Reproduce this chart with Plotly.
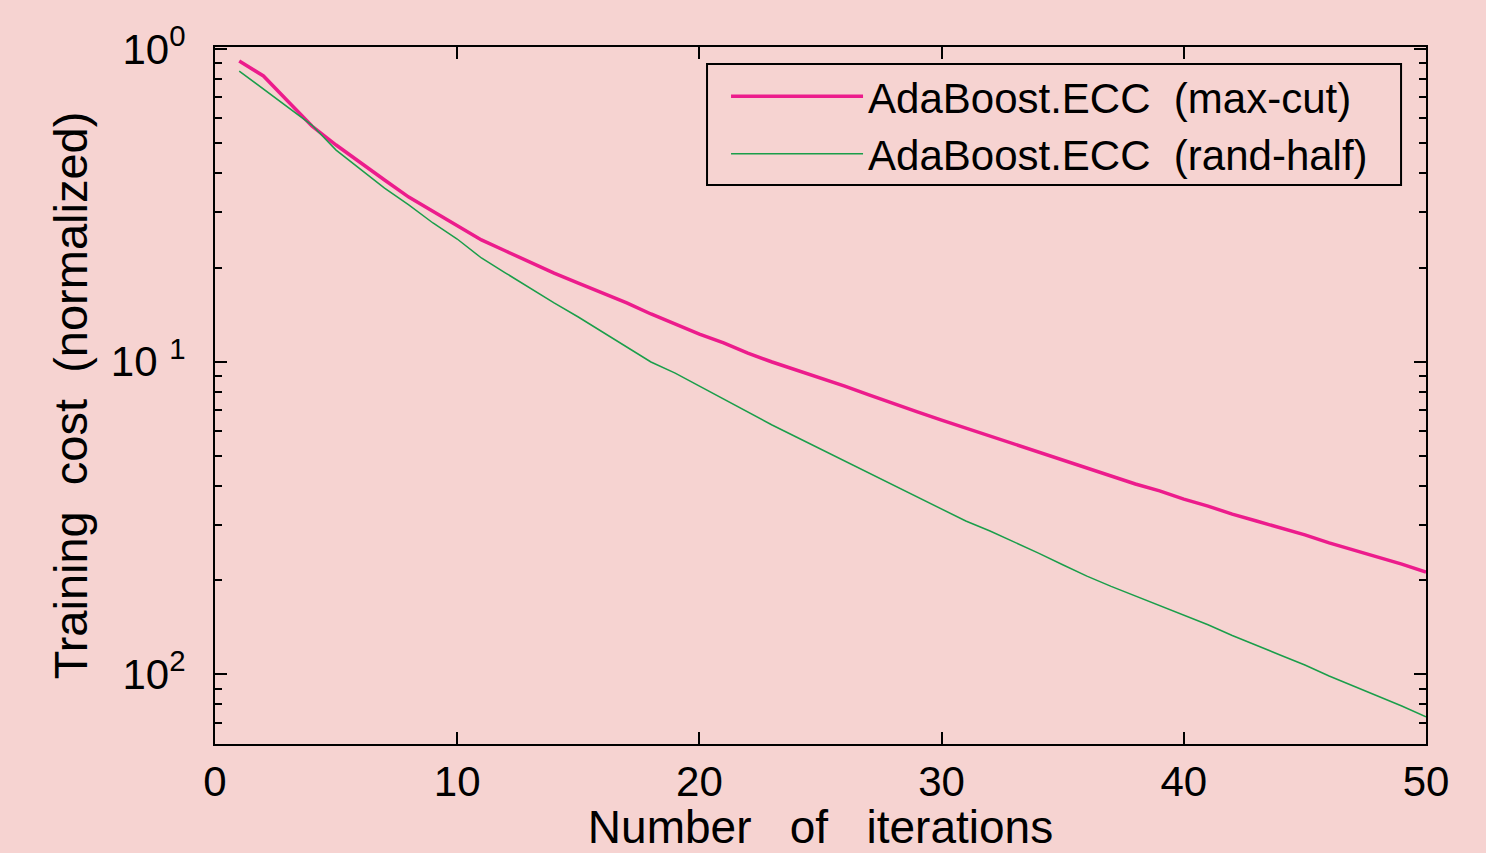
import plotly.graph_objects as go

iterations = list(range(1, 51))

maxcut = [0.915, 0.820, 0.682, 0.567, 0.493, 0.435, 0.381, 0.336, 0.303, 0.2715,
          0.245, 0.2258, 0.2083, 0.192, 0.1784, 0.1657, 0.154, 0.142, 0.132, 0.1225,
          0.1147, 0.1065, 0.0997, 0.0940, 0.0886, 0.0835, 0.0782, 0.0737, 0.0690, 0.0650,
          0.0613, 0.0578, 0.0545, 0.0514, 0.0484, 0.0457, 0.0431, 0.0406, 0.0386, 0.0363,
          0.0345, 0.0325, 0.0309, 0.0294, 0.0279, 0.0263, 0.0250, 0.0237, 0.0225, 0.0212]

randhalf = [0.850, 0.745, 0.652, 0.571, 0.475, 0.413, 0.359, 0.317, 0.2776, 0.2467,
            0.2145, 0.192, 0.172, 0.154, 0.1389, 0.1244, 0.1114, 0.0997, 0.0919, 0.0835,
            0.0759, 0.0690, 0.0627, 0.0574, 0.0525, 0.0481, 0.0440, 0.0403, 0.0369, 0.0338,
            0.0309, 0.0287, 0.0265, 0.0244, 0.0224, 0.0206, 0.0191, 0.0178, 0.0166, 0.0155,
            0.0144, 0.0133, 0.0124, 0.0115, 0.0107, 0.00987, 0.00917, 0.00852, 0.00791, 0.00730]

series_names = ["AdaBoost.ECC\u00a0 (max-cut)", "AdaBoost.ECC\u00a0 (rand-half)"]

x_ticks = [0, 10, 20, 30, 40, 50]
y_ticks = [1, 0.1, 0.01]
y_ticktext = ["10<sup>0</sup>", "10 <sup>1</sup>", "10<sup>2</sup>"]
y_minor = [0.2, 0.3, 0.4, 0.5, 0.6, 0.7, 0.8, 0.9,
           0.02, 0.03, 0.04, 0.05, 0.06, 0.07, 0.08, 0.09,
           0.007, 0.008, 0.009]

bg = "#F6D3D1"
font_family = "Liberation Sans, Arial, sans-serif"

fig = go.Figure()
fig.add_trace(go.Scatter(x=iterations, y=maxcut, mode="lines", name=series_names[0],
                         line=dict(color="#EC1C8C", width=3.5)))
fig.add_trace(go.Scatter(x=iterations, y=randhalf, mode="lines", name=series_names[1],
                         line=dict(color="#1A9E4A", width=1.5)))

axis_common = dict(showline=True, linecolor="black", linewidth=2, mirror="ticks",
                   ticks="inside", tickcolor="black", tickwidth=1.5, ticklen=12,
                   showgrid=False, zeroline=False,
                   tickfont=dict(family=font_family, size=42, color="black"))

fig.update_xaxes(range=[0, 50], tickvals=x_ticks, ticklabelstandoff=0,
                 title=dict(text="Number\u00a0\u00a0 of\u00a0\u00a0 iterations",
                            font=dict(family=font_family, size=46, color="black"),
                            standoff=0),
                 **axis_common)
fig.update_yaxes(type="log", range=[-2.2233, 0.0064], tickvals=y_ticks, ticktext=y_ticktext,
                 minor=dict(tickvals=y_minor, ticks="inside", ticklen=7, tickcolor="black",
                            tickwidth=1.5),
                 ticklabelstandoff=19,
                 title=dict(text="Training\u00a0 cost\u00a0 (normalized)",
                            font=dict(family=font_family, size=47, color="black"),
                            standoff=8),
                 **axis_common)

# legend frame
fig.add_shape(type="rect", xref="paper", yref="paper",
              x0=0.4063, x1=0.9794, y0=0.802, y1=0.9756,
              line=dict(color="black", width=2), fillcolor=bg, layer="below")

fig.update_layout(
    width=1486, height=853,
    margin=dict(l=215, r=60, t=47, b=109),
    paper_bgcolor=bg, plot_bgcolor=bg,
    font=dict(family=font_family, size=40, color="black"),
    showlegend=True,
    legend=dict(x=0.422, y=0.978, xanchor="left", yanchor="top",
                bgcolor="rgba(0,0,0,0)", borderwidth=0,
                itemwidth=132, font=dict(family=font_family, size=42, color="black"),
                tracegroupgap=0),
)

fig.write_html("out.html", config={"displayModeBar": False},
               post_script="document.body.style.margin='0';document.body.style.padding='0';")
